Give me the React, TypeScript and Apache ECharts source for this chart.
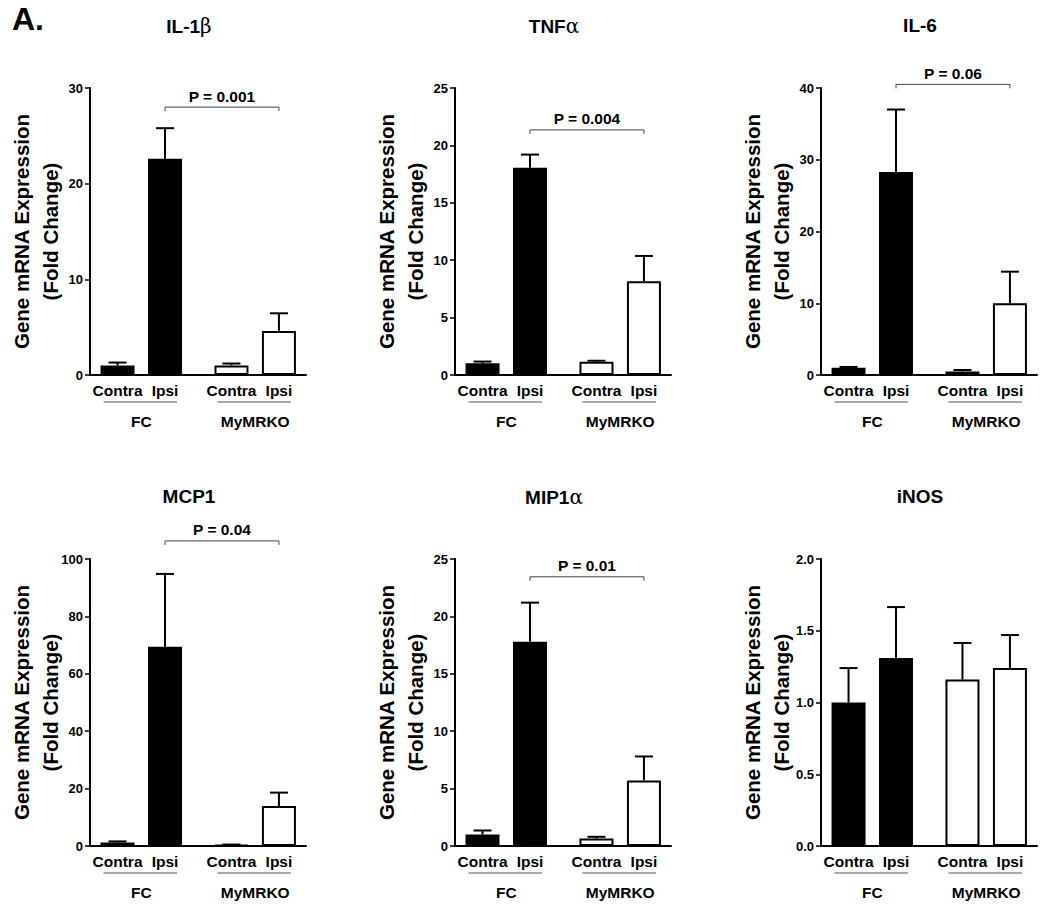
import React, { useEffect, useRef } from 'react';
import * as echarts from 'echarts';

// ---------- data ----------
const CATEGORY_LABELS = ['Contra', 'Ipsi', 'Contra', 'Ipsi'];
const GROUP_LABELS = ['FC', 'MyMRKO'];
const PANEL_TITLES = ['IL-1{g|β}', 'TNF{g|α}', 'IL-6', 'MCP1', 'MIP1{g|α}', 'iNOS'];

const IL1B_MEAN = [1.0, 22.6, 1.0, 4.6];
const IL1B_SEM = [0.3, 3.2, 0.2, 1.85];
const TNFA_MEAN = [1.02, 18.05, 1.16, 8.17];
const TNFA_SEM = [0.15, 1.15, 0.08, 2.2];
const IL6_MEAN = [1.02, 28.3, 0.5, 10.0];
const IL6_SEM = [0.1, 8.7, 0.2, 4.4];
const MCP1_MEAN = [1.2, 69.4, 0.3, 13.9];
const MCP1_SEM = [0.4, 25.4, 0.2, 4.7];
const MIP1A_MEAN = [1.0, 17.8, 0.65, 5.7];
const MIP1A_SEM = [0.35, 3.4, 0.15, 2.1];
const INOS_MEAN = [1.0, 1.31, 1.16, 1.24];
const INOS_SEM = [0.24, 0.355, 0.255, 0.23];

const MEANS = [IL1B_MEAN, TNFA_MEAN, IL6_MEAN, MCP1_MEAN, MIP1A_MEAN, INOS_MEAN];
const SEMS = [IL1B_SEM, TNFA_SEM, IL6_SEM, MCP1_SEM, MIP1A_SEM, INOS_SEM];

const Y_MAX = [30, 25, 40, 100, 25, 2.0];
const Y_STEP = [10, 5, 10, 20, 5, 0.5];
const Y_DECIMALS = [0, 0, 0, 0, 0, 1];

const P_LABELS = ['P = 0.001', 'P = 0.004', 'P = 0.06', 'P = 0.04', 'P = 0.01', null];
const P_BRACKET_VALUE = [28.0, 21.35, 40.5, 106.3, 23.45, null];

// ---------- layout ----------
const FONT = '"Liberation Sans", Arial, Helvetica, sans-serif';
const GREEK_FONT = '"DejaVu Serif", "Liberation Serif", serif';
const CAT_POS = [0, 1, 2.4, 3.4];
const X_MIN = -0.58;
const X_MAX = 3.97;
const GRID_LEFT = [90, 455, 821];
const GRID_TOP = [88, 559];
const GRID_W = 216;
const GRID_H = 287;

function buildOption() {
  const grid: any[] = [];
  const xAxis: any[] = [];
  const yAxis: any[] = [];
  const series: any[] = [];
  const title: any[] = [];

  for (let i = 0; i < 6; i++) {
    const col = i % 3;
    const row = Math.floor(i / 3);
    const left = GRID_LEFT[col];
    const top = GRID_TOP[row];
    grid.push({ left, top, width: GRID_W, height: GRID_H, containLabel: false, outerBoundsMode: 'none' });

    title.push({
      text: PANEL_TITLES[i],
      left: left + 94,
      top: top - 77,
      textAlign: 'center',
      textStyle: {
        fontFamily: FONT,
        fontWeight: 'bold',
        fontSize: 19,
        color: '#000',
        rich: { g: { fontFamily: GREEK_FONT, fontWeight: 'normal', fontSize: 20, color: '#000' } },
      },
    });

    xAxis.push({
      type: 'value',
      gridIndex: i,
      min: X_MIN,
      max: X_MAX,
      axisLine: { show: true, onZero: false, lineStyle: { color: '#000', width: 2 } },
      axisTick: { show: false },
      splitLine: { show: false },
      axisLabel: {
        customValues: CAT_POS,
        formatter: (v: number) => {
          const k = CAT_POS.findIndex((p) => Math.abs(p - v) < 1e-6);
          return k >= 0 ? CATEGORY_LABELS[k] : '';
        },
        color: '#000',
        fontFamily: FONT,
        fontWeight: 'bold',
        fontSize: 15.5,
        margin: 7,
      },
    });

    const dec = Y_DECIMALS[i];
    yAxis.push({
      type: 'value',
      gridIndex: i,
      min: 0,
      max: Y_MAX[i],
      interval: Y_STEP[i],
      axisLine: { show: true, onZero: false, lineStyle: { color: '#000', width: 2 } },
      axisTick: { show: true, length: 5, lineStyle: { color: '#000', width: 1.5 } },
      splitLine: { show: false },
      axisLabel: {
        color: '#000',
        fontFamily: FONT,
        fontWeight: 'bold',
        fontSize: 13,
        margin: 7,
        formatter: (v: number) => v.toFixed(dec),
      },
      name: 'Gene mRNA Expression\n(Fold Change)',
      nameLocation: 'middle',
      nameGap: 25,
      nameMoveOverlap: false,
      nameTextStyle: {
        color: '#000',
        fontFamily: FONT,
        fontWeight: 'bold',
        fontSize: 20.5,
        lineHeight: 29,
      },
    });

    const mean = MEANS[i];
    const sem = SEMS[i];

    series.push({
      type: 'bar',
      xAxisIndex: i,
      yAxisIndex: i,
      barWidth: 34,
      itemStyle: { borderColor: '#000', borderWidth: 2 },
      data: CAT_POS.map((x, k) => ({
        value: [x, mean[k]],
        itemStyle: { color: k < 2 ? '#000' : '#fff' },
      })),
      z: 2,
    });

    series.push({
      type: 'custom',
      xAxisIndex: i,
      yAxisIndex: i,
      z: 3,
      clip: false,
      encode: { x: 0, y: [1, 2] },
      data: CAT_POS.map((x, k) => [x, mean[k], sem[k]]),
      renderItem: (_params: any, api: any) => {
        const x = api.value(0);
        const m = api.value(1);
        const s = api.value(2);
        const base = api.coord([x, m]);
        const tip = api.coord([x, m + s]);
        return {
          type: 'group',
          children: [
            { type: 'line', shape: { x1: base[0], y1: base[1], x2: tip[0], y2: tip[1] }, style: { stroke: '#000', lineWidth: 2 } },
            { type: 'line', shape: { x1: tip[0] - 9, y1: tip[1], x2: tip[0] + 9, y2: tip[1] }, style: { stroke: '#000', lineWidth: 2 } },
          ],
        };
      },
    });

    // group underline + group label
    series.push({
      type: 'custom',
      xAxisIndex: i,
      yAxisIndex: i,
      z: 3,
      clip: false,
      encode: { x: [0, 1] },
      data: GROUP_LABELS.map((_g, k) => [CAT_POS[2 * k], CAT_POS[2 * k + 1]]),
      renderItem: (params: any, api: any) => {
        const a = api.coord([api.value(0), 0]);
        const b = api.coord([api.value(1), 0]);
        const y = a[1];
        return {
          type: 'group',
          children: [
            { type: 'line', shape: { x1: a[0] - 14, y1: y + 27, x2: b[0] + 12, y2: y + 27 }, style: { stroke: '#555', lineWidth: 1 } },
            {
              type: 'text',
              style: {
                text: GROUP_LABELS[params.dataIndex],
                x: (a[0] + b[0]) / 2,
                y: y + 46,
                align: 'center',
                verticalAlign: 'middle',
                fill: '#000',
                fontFamily: FONT,
                fontWeight: 'bold',
                fontSize: 15.5,
              },
            },
          ],
        };
      },
    });

    const pLabel = P_LABELS[i];
    const pVal = P_BRACKET_VALUE[i];
    if (pLabel && pVal != null) {
      series.push({
        type: 'custom',
        xAxisIndex: i,
        yAxisIndex: i,
        z: 3,
        clip: false,
        encode: { x: [0, 1], y: 2 },
        data: [[CAT_POS[1], CAT_POS[3], pVal]],
        renderItem: (_params: any, api: any) => {
          const a = api.coord([api.value(0), api.value(2)]);
          const b = api.coord([api.value(1), api.value(2)]);
          const st = { stroke: '#444', lineWidth: 1 };
          return {
            type: 'group',
            children: [
              { type: 'line', shape: { x1: a[0], y1: a[1], x2: b[0], y2: b[1] }, style: st },
              { type: 'line', shape: { x1: a[0], y1: a[1], x2: a[0], y2: a[1] + 4 }, style: st },
              { type: 'line', shape: { x1: b[0], y1: b[1], x2: b[0], y2: b[1] + 4 }, style: st },
              {
                type: 'text',
                style: {
                  text: pLabel,
                  x: (a[0] + b[0]) / 2,
                  y: a[1] - 11,
                  align: 'center',
                  verticalAlign: 'middle',
                  fill: '#000',
                  fontFamily: FONT,
                  fontWeight: 'bold',
                  fontSize: 15.5,
                },
              },
            ],
          };
        },
      });
    }
  }

  return {
    animation: false,
    backgroundColor: '#fff',
    title,
    grid,
    xAxis,
    yAxis,
    series,
    graphic: [
      {
        type: 'text',
        left: 12,
        top: 3,
        style: { text: 'A.', fill: '#000', fontFamily: FONT, fontWeight: 'bold', fontSize: 32 },
      },
    ],
  };
}

export default function App() {
  const ref = useRef<HTMLDivElement>(null);
  useEffect(() => {
    if (!ref.current) return;
    const chart = echarts.init(ref.current, null, { renderer: 'svg' });
    chart.setOption(buildOption() as any);
    return () => chart.dispose();
  }, []);
  return (
    <div
      ref={ref}
      style={{ position: 'absolute', left: 0, top: 0, width: 1050, height: 909, background: '#fff' }}
    />
  );
}
